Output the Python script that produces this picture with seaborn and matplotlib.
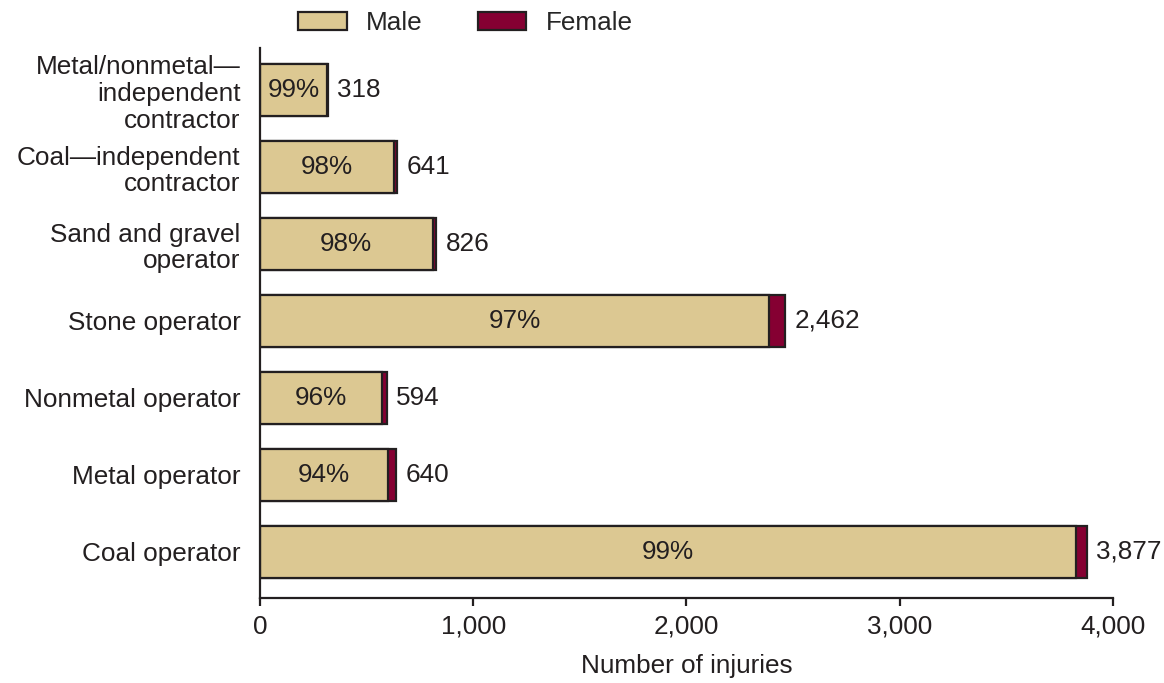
import matplotlib
matplotlib.use("Agg")
import matplotlib.pyplot as plt
import seaborn as sns
import pandas as pd
from matplotlib.patches import Patch

sns.set_style("ticks")
plt.rcParams['font.family'] = ['Liberation Sans', 'DejaVu Sans']

categories = ["Metal/nonmetal\u2014\nindependent\ncontractor",
              "Coal\u2014independent\ncontractor",
              "Sand and gravel\noperator",
              "Stone operator",
              "Nonmetal operator",
              "Metal operator",
              "Coal operator"]
totals = [318, 641, 826, 2462, 594, 640, 3877]
female = [3, 13, 17, 74, 24, 38, 50]
male_pct = ["99%", "98%", "98%", "97%", "96%", "94%", "99%"]

MALE_COLOR = "#dcc892"
FEMALE_COLOR = "#850032"
EDGE = "#231f20"
FS = 18.8

df = pd.DataFrame({"cat": categories, "total": totals, "female": female})
df["male"] = df.total - df.female

fig = plt.figure(figsize=(11.64, 6.83), dpi=100)
ax = fig.add_axes([0.2234, 0.1245, 0.7326, 0.8055])

sns.barplot(data=df, x="total", y="cat", color=FEMALE_COLOR, width=0.68,
            edgecolor=EDGE, linewidth=1.6, saturation=1, ax=ax)
sns.barplot(data=df, x="male", y="cat", color=MALE_COLOR, width=0.68,
            edgecolor=EDGE, linewidth=1.6, saturation=1, ax=ax)

for i, row in df.iterrows():
    ax.text(row.male / 2, i, male_pct[i], ha="center", va="center", fontsize=FS, color=EDGE)
    ax.text(row.total + 45, i, f"{row.total:,}", ha="left", va="center", fontsize=FS, color=EDGE)

ax.set_xlim(0, 4000)
ax.set_ylim(6.6, -0.55)
ax.set_xticks([0, 1000, 2000, 3000, 4000])
ax.set_xticklabels(["0", "1,000", "2,000", "3,000", "4,000"])
ax.set_xlabel("Number of injuries", fontsize=FS, labelpad=11, color=EDGE)
ax.set_ylabel("")
ax.tick_params(axis="x", length=6, width=1.6, labelsize=FS, colors=EDGE, pad=6)
ax.tick_params(axis="y", length=0, labelsize=FS, colors=EDGE, pad=14)
for lbl in ax.get_yticklabels():
    lbl.set_multialignment("right")
    lbl.set_linespacing(1.15)
sns.despine(ax=ax)
for s in ["left", "bottom"]:
    ax.spines[s].set_linewidth(1.6)
    ax.spines[s].set_color(EDGE)

handles = [Patch(facecolor=MALE_COLOR, edgecolor=EDGE, linewidth=1.6, label="Male"),
           Patch(facecolor=FEMALE_COLOR, edgecolor=EDGE, linewidth=1.6, label="Female")]
fig.legend(handles=handles, loc="center", bbox_to_anchor=(0.4, 0.966), ncol=2,
           frameon=False, fontsize=FS, handlelength=1.85, handleheight=0.7,
           columnspacing=2.1, handletextpad=0.75)

fig.savefig("out.png", dpi=100)
